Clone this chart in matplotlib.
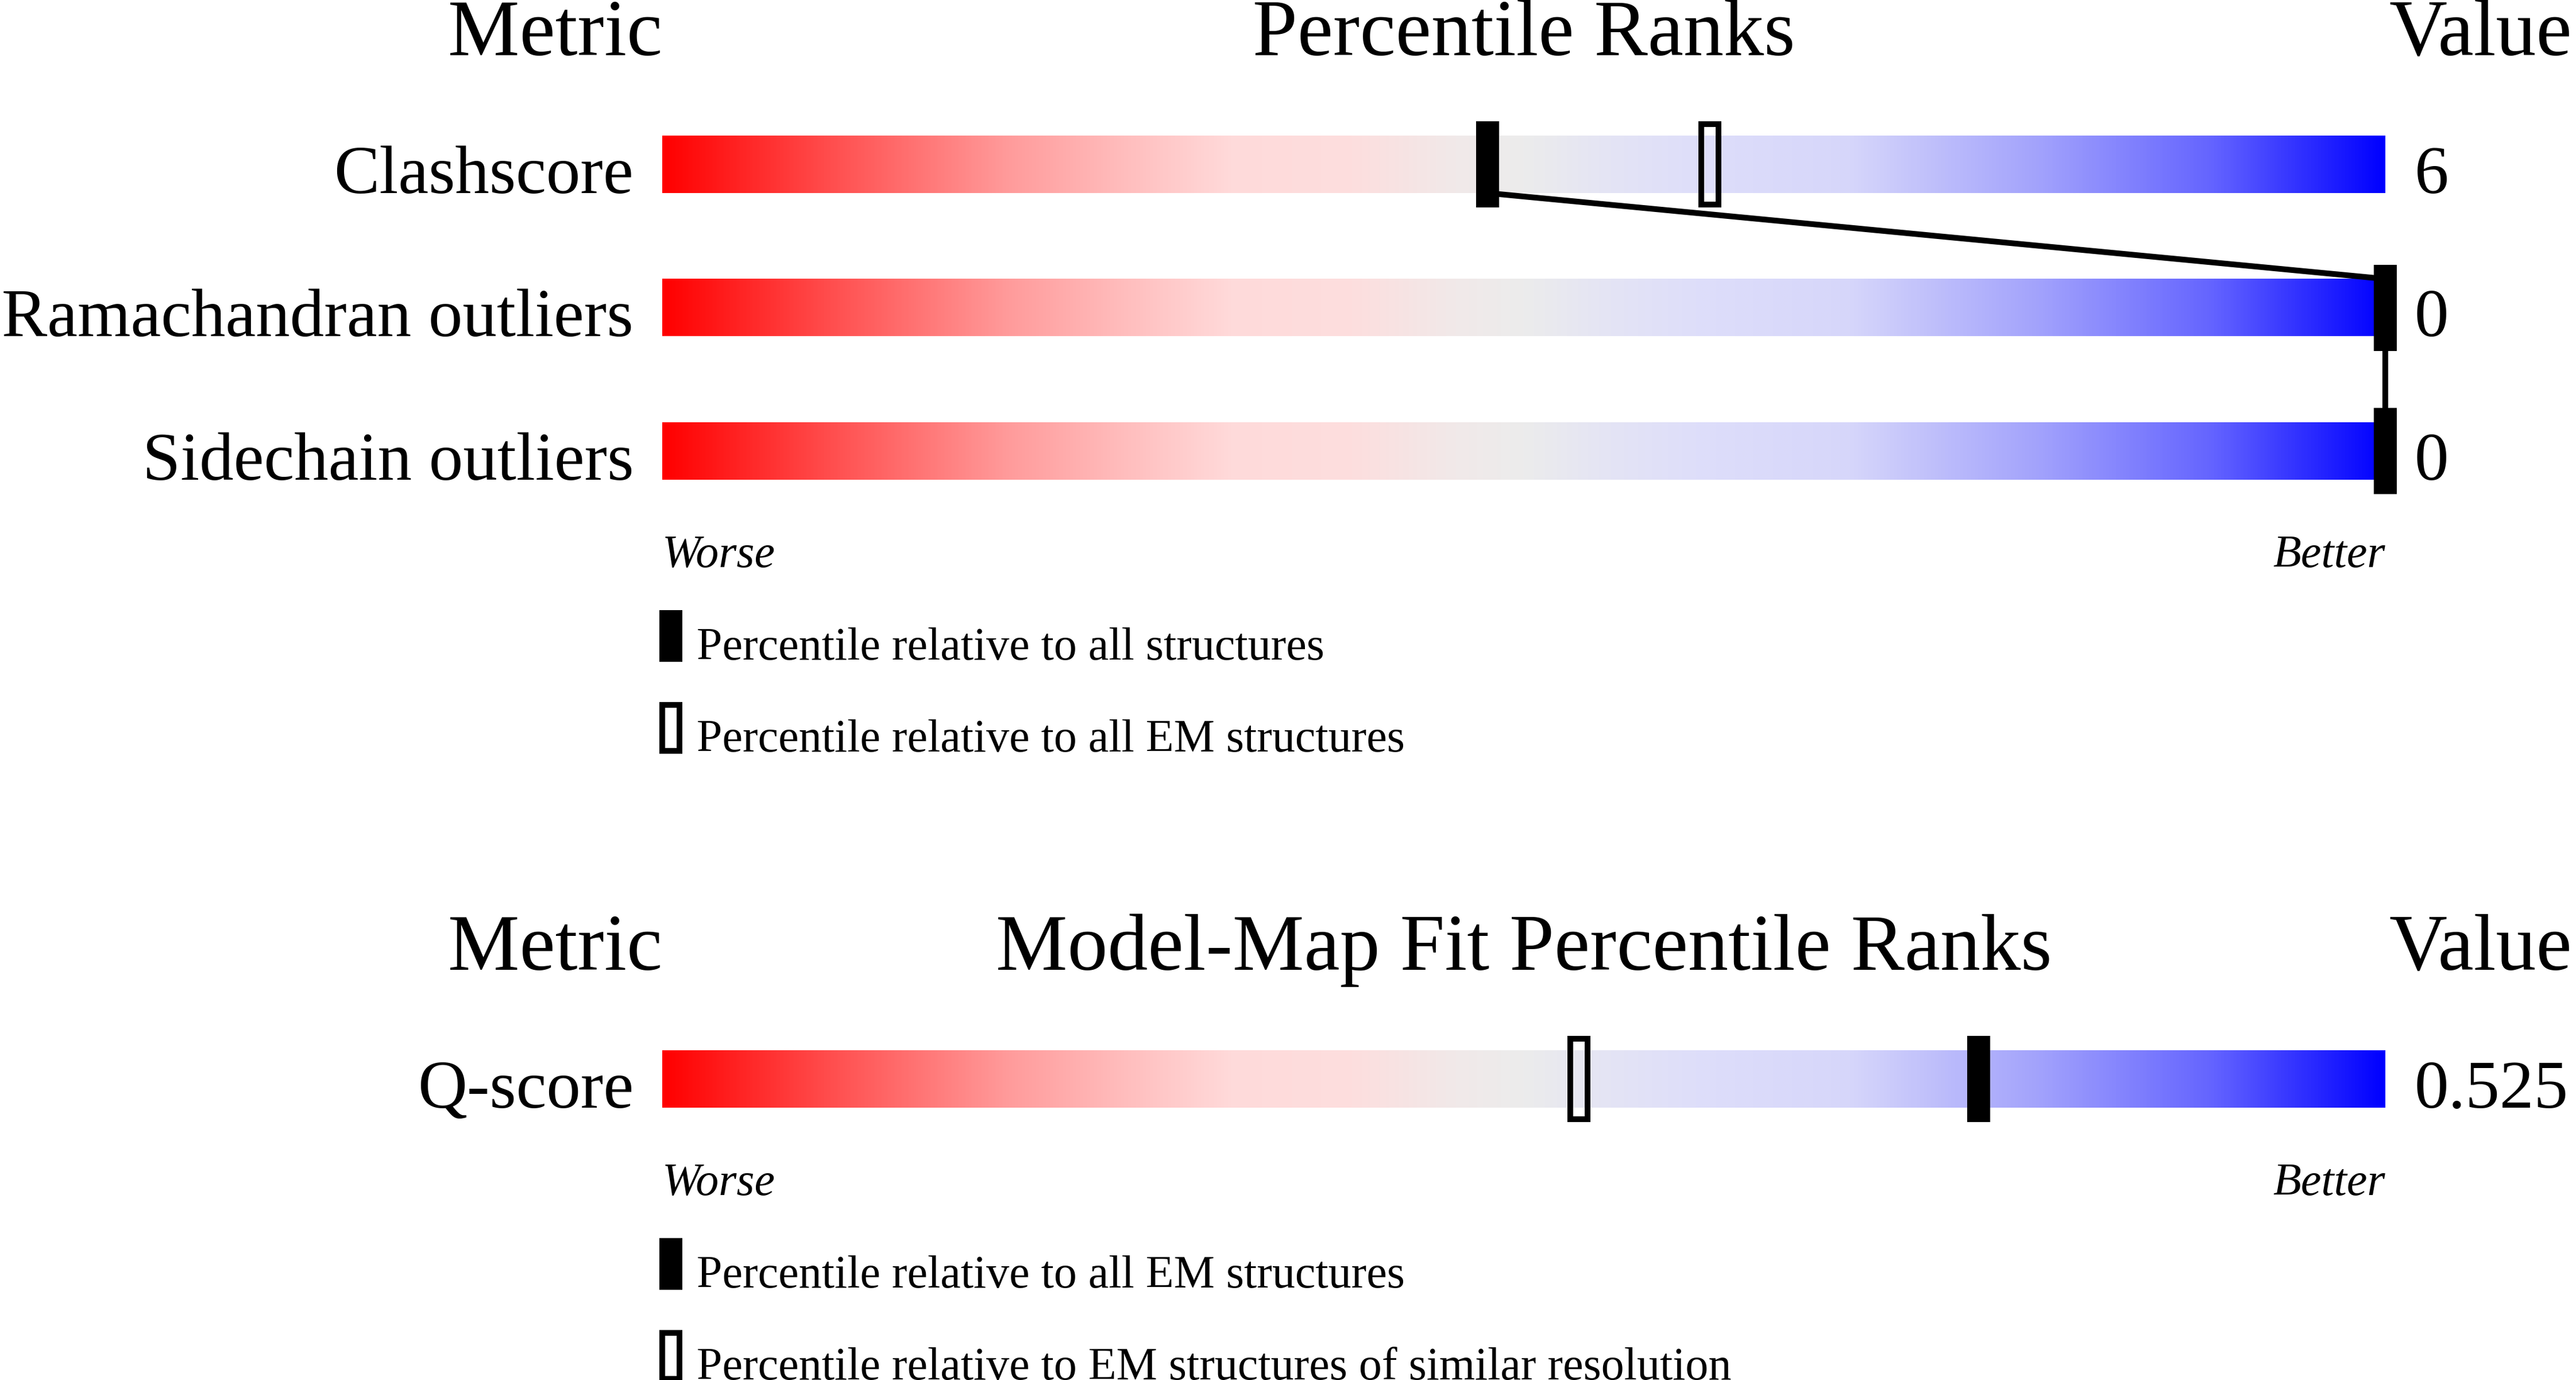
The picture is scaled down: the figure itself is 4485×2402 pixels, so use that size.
import numpy as np
import matplotlib.pyplot as plt
from matplotlib.colors import LinearSegmentedColormap
from matplotlib.patches import Rectangle

# geometry check data
metrics = ["Clashscore", "Ramachandran outliers", "Sidechain outliers"]
metric_values = ["6", "0", "0"]
pct_all = [47.9, 100, 100]          # solid marker: all structures
pct_all_em = [60.8, 100, 100]       # hollow marker: all EM structures
legend_geom = ["Percentile relative to all structures",
               "Percentile relative to all EM structures"]

# model-map fit data
fit_metrics = ["Q-score"]
fit_values = ["0.525"]
fit_pct_em = [76.4]                 # solid marker: all EM structures
fit_pct_res = [53.2]                # hollow marker: similar resolution
legend_fit = ["Percentile relative to all EM structures",
              "Percentile relative to EM structures of similar resolution"]

# worse -> better colour ramp
grad_pos = [0.0, 0.1, 0.2, 0.28, 0.33, 0.40, 0.46, 0.50, 0.55, 0.60, 0.69, 0.80, 0.90, 1.0]
grad_rgb = [(255, 0, 0), (255, 80, 80), (255, 155, 155), (255, 195, 195),
            (255, 218, 218), (253, 222, 222), (241, 233, 233), (236, 236, 236),
            (228, 228, 245), (222, 222, 250), (214, 214, 250), (162, 162, 252),
            (100, 100, 255), (0, 0, 255)]

W, H = 4485, 2402
X0, X1 = 1153, 4153
BAR_H = 100
ROW_STEP = 249.5
MK_W, MK_H = 40, 150
PX = 72.0 / 100          # points per pixel at dpi 100

plt.rcParams['font.family'] = ['Liberation Serif', 'DejaVu Serif']

cmap = LinearSegmentedColormap.from_list(
    "wb", [(p, tuple(c / 255 for c in rgb)) for p, rgb in zip(grad_pos, grad_rgb)], N=512)


def pct_x(p):
    return X0 + (X1 - X0) * p / 100.0


def solid_marker(ax, x, ytop):
    ax.add_patch(Rectangle((x - MK_W / 2, ytop - (MK_H - BAR_H) / 2), MK_W, MK_H,
                           facecolor="black", edgecolor="none", zorder=4))


def hollow_marker(ax, x, ytop, w=MK_W, h=MK_H):
    lw = 10
    ax.add_patch(Rectangle((x - w / 2 + lw / 2, ytop - (h - BAR_H) / 2 + lw / 2),
                           w - lw, h - lw, fill=False, edgecolor="black",
                           linewidth=lw * PX, joinstyle="miter", zorder=3))


def draw_section(ax, base, header, names, values, solid, hollow, legend, connect):
    fs_head = 140 * PX
    fs_lab = 119 * PX
    fs_small = 80 * PX
    ax.text(X0, base, "Metric", ha="right", va="baseline", fontsize=fs_head)
    ax.text((X0 + X1) / 2, base, header, ha="center", va="baseline", fontsize=fs_head)
    ax.text(4159, base, "Value", ha="left", va="baseline", fontsize=fs_head)

    tops = [base + 140 + i * ROW_STEP for i in range(len(names))]
    for i, top in enumerate(tops):
        bottom = top + BAR_H
        ax.imshow(np.linspace(0, 1, 1024)[None, :], cmap=cmap, aspect="auto",
                  extent=(X0, X1, bottom, top), interpolation="bilinear", zorder=1)
        ax.text(1103, bottom, names[i], ha="right", va="baseline", fontsize=fs_lab)
        ax.text(4204, bottom, values[i], ha="left", va="baseline", fontsize=fs_lab)
        hollow_marker(ax, pct_x(hollow[i]), top)
        solid_marker(ax, pct_x(solid[i]), top)

    if connect:
        for i in range(len(tops) - 1):
            ax.plot([pct_x(solid[i]), pct_x(solid[i + 1])],
                    [tops[i] + BAR_H, tops[i + 1]], color="black",
                    linewidth=10 * PX, solid_capstyle="butt", zorder=2)

    wb = tops[-1] + BAR_H + 152
    ax.text(X0, wb, "Worse", ha="left", va="baseline", fontsize=fs_small, style="italic")
    ax.text(X1, wb, "Better", ha="right", va="baseline", fontsize=fs_small, style="italic")

    r1 = wb + 75
    ax.add_patch(Rectangle((1148, r1), 40, 90, facecolor="black", edgecolor="none"))
    ax.text(1213, r1 + 86, legend[0], ha="left", va="baseline", fontsize=fs_small)
    r2 = wb + 235
    ax.add_patch(Rectangle((1148 + 5, r2 + 5), 30, 80, fill=False, edgecolor="black",
                           linewidth=10 * PX, joinstyle="miter"))
    ax.text(1213, r2 + 86, legend[1], ha="left", va="baseline", fontsize=fs_small)


def plotChart():
    fig = plt.figure(figsize=(W / 100, H / 100), dpi=100)
    ax = fig.add_axes([0, 0, 1, 1])

    draw_section(ax, 96, "Percentile Ranks", metrics, metric_values,
                 pct_all, pct_all_em, legend_geom, True)
    draw_section(ax, 1688, "Model-Map Fit Percentile Ranks", fit_metrics, fit_values,
                 fit_pct_em, fit_pct_res, legend_fit, False)

    ax.set_xlim(0, W)
    ax.set_ylim(H, 0)
    ax.axis("off")
    fig.savefig("out.png", dpi=100, facecolor="white")
    plt.close(fig)


if __name__ == "__main__":
    plotChart()
